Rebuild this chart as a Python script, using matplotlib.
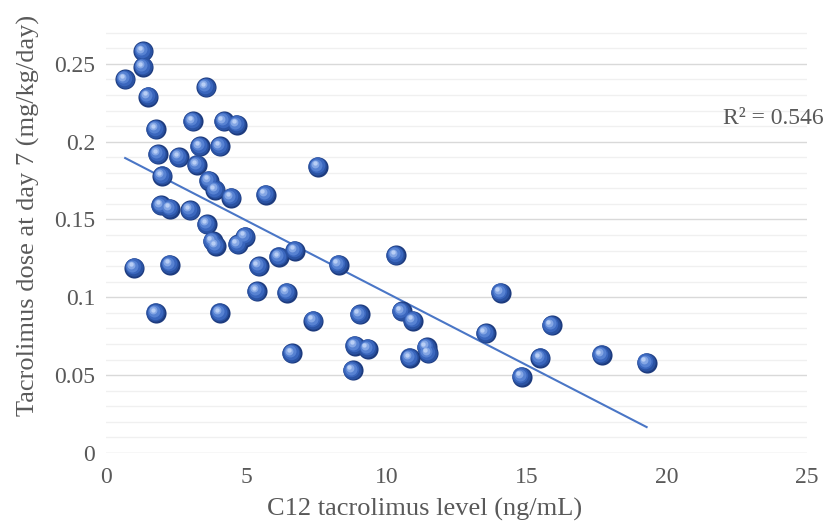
import numpy as np
import matplotlib
matplotlib.use('Agg')
import matplotlib.pyplot as plt
from matplotlib.transforms import offset_copy

# C12 tacrolimus level (ng/mL) vs dose at day 7 (mg/kg/day)
c12_level = [0.68, 1.32, 1.32, 1.50, 1.78, 1.85, 2.00, 1.96, 2.28, 2.60,
             3.10, 3.00, 3.24, 3.35, 3.57, 3.67, 3.90, 4.06, 4.20, 4.67,
             4.46, 3.60, 3.80, 3.92, 4.96, 4.70, 5.70, 1.00, 2.28, 1.78,
             4.06, 5.45, 6.17, 6.74, 5.38, 6.45, 7.56, 6.63, 7.40, 8.30,
             8.80, 8.88, 9.34, 9.05, 10.34, 10.55, 10.95, 10.84, 11.44, 11.50,
             13.55, 14.08, 14.83, 15.50, 15.90, 17.68, 19.29]
dose_d7 = [0.240, 0.258, 0.248, 0.229, 0.208, 0.192, 0.178, 0.159, 0.157, 0.190,
           0.213, 0.156, 0.185, 0.197, 0.235, 0.175, 0.169, 0.197, 0.213, 0.211,
           0.164, 0.147, 0.136, 0.133, 0.139, 0.134, 0.166, 0.119, 0.121, 0.090,
           0.090, 0.120, 0.126, 0.130, 0.104, 0.103, 0.184, 0.064, 0.085, 0.121,
           0.053, 0.069, 0.067, 0.089, 0.127, 0.091, 0.085, 0.061, 0.068, 0.064,
           0.077, 0.103, 0.049, 0.061, 0.082, 0.063, 0.058]
r2_label = 'R² = 0.546'
x_ticks = [0, 5, 10, 15, 20, 25]
y_ticks = [0, 0.05, 0.1, 0.15, 0.2, 0.25]

plt.rcParams['font.family'] = ['Liberation Serif', 'DejaVu Serif']
txt = '#595959'

fig = plt.figure(figsize=(8.29, 5.30), dpi=100)
ax = fig.add_axes([0.128, 0.1453, 0.845, 0.8077])

x = np.array(c12_level)
y = np.array(dose_d7)

# shaded "ball" markers: dark base, then lighter layers shifted up-left
layers = [(210, '#1d3b7e', 0, 0), (175, '#2a52a2', -0.4, 0.4),
          (125, '#3a66bd', -0.9, 0.9), (75, '#5782d2', -1.4, 1.4),
          (32, '#85a7e5', -2.0, 2.0), (10, '#b8cef5', -2.4, 2.4)]
for s, col, dx, dy in layers:
    tr = offset_copy(ax.transData, fig=fig, x=dx, y=dy, units='points')
    ax.scatter(x, y, s=s, color=col, linewidths=0, transform=tr, zorder=3)

# linear trend line
k, b = np.polyfit(x, y, 1)
xs = np.array([x.min(), x.max()])
ax.plot(xs, k * xs + b, color='#4a76c6', lw=1.5, zorder=2)

ax.text(22.0, 0.215, r2_label, fontsize=17, color=txt, va='center', ha='left')

ax.set_xlim(0, 25)
ax.set_ylim(0, 0.275)
ax.set_xticks(x_ticks)
ax.set_xticklabels([str(t) for t in x_ticks])
ax.set_yticks(y_ticks)
ax.set_yticklabels(['0', '0.05', '0.1', '0.15', '0.2', '0.25'])
ax.set_yticks(np.arange(0, 0.275, 0.01), minor=True)
ax.grid(axis='y', which='major', color='#d9d9d9', lw=1, zorder=0)
ax.grid(axis='y', which='minor', color='#f0f0f0', lw=1, zorder=0)
ax.tick_params(axis='both', which='both', length=0, labelsize=17, labelcolor=txt)
ax.tick_params(axis='x', pad=10)
ax.tick_params(axis='y', pad=8)
for sp in ax.spines.values():
    sp.set_visible(False)

ax.set_xlabel('C12 tacrolimus level (ng/mL)', fontsize=19, color=txt)
ax.set_ylabel('Tacrolimus dose at day 7 (mg/kg/day)', fontsize=19, color=txt)
ax.xaxis.set_label_coords(0.454, -0.105)
ax.yaxis.set_label_coords(-0.094, 0.556)

fig.savefig('out.png', dpi=100)
